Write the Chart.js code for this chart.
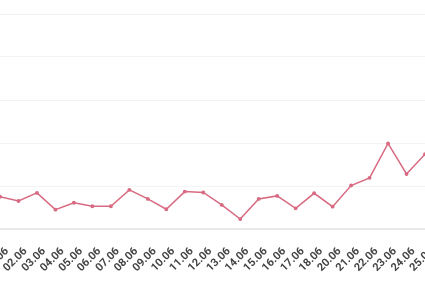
<!DOCTYPE html>
<html lang="en">
<head>
    <meta charset="UTF-8">
    <title>Daily line</title>
    <script src="https://cdn.jsdelivr.net/npm/chart.js"></script>
    <style>
        * { box-sizing: border-box; }
        body, html { margin:0; padding:0; background:#fff; overflow:hidden; }
        #wrap { width:425px; height:284px; position:relative; }
    </style>
</head>
<body>
    <div id="wrap"><canvas id="line-chart"></canvas></div>
    <script>
        // data
        const labels = ['01.06','02.06','03.06','04.06','05.06','06.06','07.06','08.06','09.06','10.06','11.06','12.06',
                        '13.06','14.06','15.06','16.06','17.06','18.06','20.06','21.06','22.06','23.06','24.06','25.06'];
        const values = [7.5, 6.5, 8.4, 4.5, 6.1, 5.3, 5.3, 9.1, 7.0, 4.6, 8.7, 8.5,
                        5.6, 2.3, 7.0, 7.7, 4.8, 8.3, 5.2, 10.1, 11.9, 19.9, 12.8, 17.4];
        const yTicks = [0, 10, 20, 30, 40, 50];

        new Chart(document.getElementById('line-chart'), {
            type: 'line',
            data: { labels, datasets: [{
                data: values,
                borderColor: '#d86a82',
                backgroundColor: '#d86a82',
                borderWidth: 1.5,
                pointRadius: 1.2,
                tension: 0
            }]},
            options: {
                responsive: true,
                maintainAspectRatio: false,
                animation: false,
                layout: { autoPadding: false, padding: { top: 14, left: 0, right: 0, bottom: 0 } },
                plugins: { legend: { display: false }, tooltip: { enabled: false } },
                scales: {
                    x: {
                        grid: { display: false },
                        border: { display: true, color: '#e8e8e8', width: 2 },
                        ticks: {
                            autoSkip: false, maxRotation: 45, minRotation: 45,
                            labelOffset: 7, padding: 8,
                            color: '#444', font: { family: 'Roboto', size: 11, weight: 'bold' }
                        },
                        afterFit: s => { s.paddingLeft = 0; s.paddingRight = 0; s.height = 55; }
                    },
                    y: {
                        min: yTicks[0], max: yTicks[yTicks.length - 1],
                        afterBuildTicks: s => { s.ticks = yTicks.map(v => ({ value: v })); },
                        grid: { color: '#f3f3f3', drawTicks: false, tickLength: 0 },
                        border: { display: false },
                        ticks: { display: false },
                        afterFit: s => { s.width = 0; }
                    }
                }
            }
        });
    </script>
</body>
</html>
